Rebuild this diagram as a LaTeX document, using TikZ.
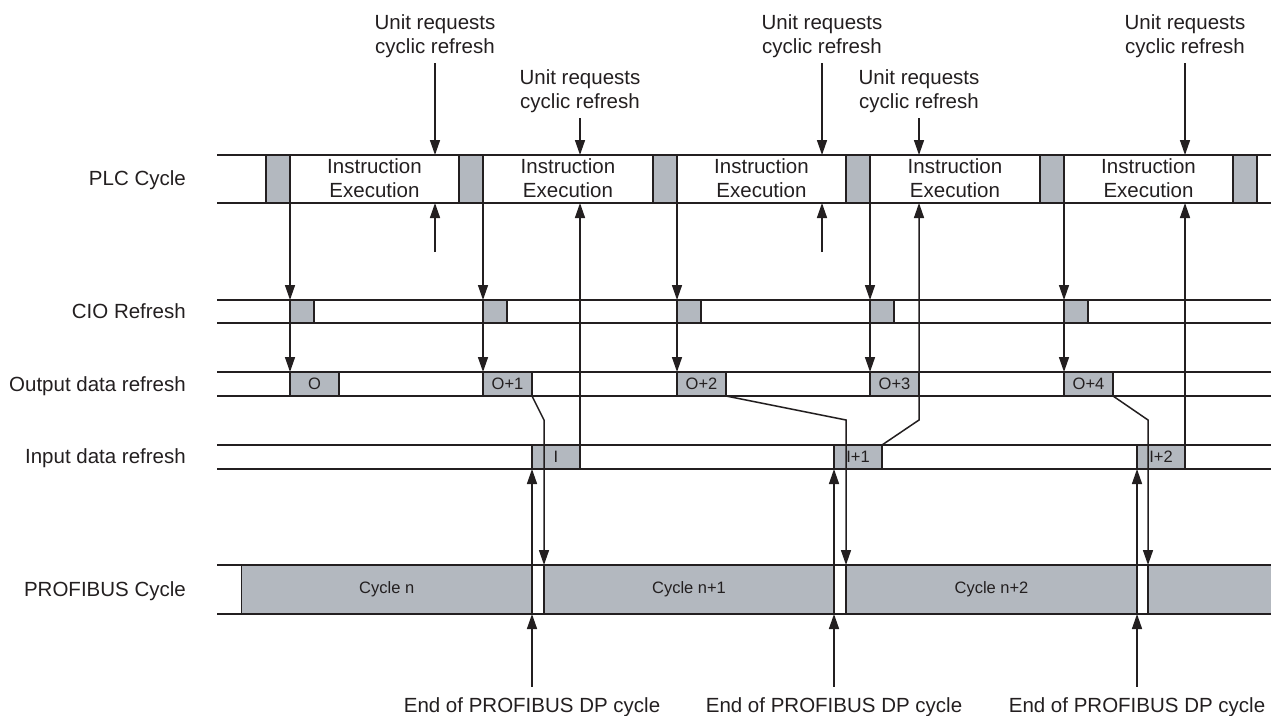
\documentclass[tikz,border=0pt]{standalone}
\usepackage{fontspec}
\setmainfont{Liberation Sans}
\usepackage{xcolor}
\usetikzlibrary{arrows.meta}
\definecolor{blockgray}{HTML}{B3B8BF}
\definecolor{ink}{HTML}{231F20}

\begin{document}
\begin{tikzpicture}[x=1pt,y=-1pt,>={Triangle[length=15pt,width=10pt]},line join=miter,
  rail/.style={draw=ink,line width=1.9pt},
  link/.style={draw=ink,line width=1.5pt},
  blk/.style={draw=ink,fill=blockgray,line width=1.7pt,inner sep=0pt,outer sep=0pt,anchor=north west,text=ink,font=\fontsize{16.5}{19}\selectfont},
  plcblk/.style={blk,minimum width=24pt,minimum height=48pt},
  cioblk/.style={blk,minimum width=24pt,minimum height=23pt},
  outblk/.style={blk,minimum width=49pt,minimum height=24pt},
  inblk/.style={blk,minimum width=48pt,minimum height=24pt},
  pbblk/.style={blk,minimum height=49pt},
  lbl/.style={inner sep=0pt,text=ink,align=center,font=\fontsize{20.5}{24}\selectfont}]
  \useasboundingbox (0,0) rectangle (1271,715);
  \clip (0,0) rectangle (1271,715);
  \coordinate (plcT) at (0,155);
  \coordinate (plcB) at (0,203);
  \coordinate (k1) at (544,420);
  \coordinate (k2) at (846,420);
  \coordinate (k3) at (1148,420);
  \coordinate (k4) at (919,420);
  \coordinate (u0) at (435,252);
  \coordinate (u1) at (822,252);
  % rails
  \draw[rail] (217,155) -- (1271,155);
  \draw[rail] (217,203) -- (1271,203);
  \draw[rail] (217,300) -- (1271,300);
  \draw[rail] (217,323) -- (1271,323);
  \draw[rail] (217,372) -- (1271,372);
  \draw[rail] (217,396) -- (1271,396);
  \draw[rail] (217,445) -- (1271,445);
  \draw[rail] (217,469) -- (1271,469);
  \draw[rail] (217,565) -- (1271,565);
  \draw[rail] (217,614) -- (1271,614);
  % blocks
  \node[plcblk] (plc0) at (266,155) {};
  \node[plcblk] (plc1) at (459,155) {};
  \node[plcblk] (plc2) at (653,155) {};
  \node[plcblk] (plc3) at (846,155) {};
  \node[plcblk] (plc4) at (1040,155) {};
  \node[plcblk] (plc5) at (1233,155) {};
  \node[cioblk] (cio0) at (290,300) {};
  \node[cioblk] (cio1) at (483,300) {};
  \node[cioblk] (cio2) at (677,300) {};
  \node[cioblk] (cio3) at (870,300) {};
  \node[cioblk] (cio4) at (1064,300) {};
  \node[outblk] (out0) at (290,372) {O};
  \node[outblk] (out1) at (483,372) {O+1};
  \node[outblk] (out2) at (677,372) {O+2};
  \node[outblk] (out3) at (870,372) {O+3};
  \node[outblk] (out4) at (1064,372) {O+4};
  \node[inblk] (in0) at (532,445) {I};
  \node[inblk] (in1) at (834,445) {I+1};
  \node[inblk] (in2) at (1137,445) {I+2};
  \node[pbblk,minimum width=290.5pt] (pb0) at (241.5,565) {Cycle n};
  \node[pbblk,minimum width=290pt] (pb1) at (544,565) {Cycle n+1};
  \node[pbblk,minimum width=291pt] (pb2) at (846,565) {Cycle n+2};
  \node[pbblk,minimum width=140pt] (pb3) at (1148,565) {};
  % labels
  \node[lbl,anchor=base east] (rowPLC) at (186,185) {PLC Cycle};
  \node[lbl,anchor=base east] (rowCIO) at (186,318) {CIO Refresh};
  \node[lbl,anchor=base east] (rowOut) at (186,391) {Output data refresh};
  \node[lbl,anchor=base east] (rowIn) at (186,463) {Input data refresh};
  \node[lbl,anchor=base east] (rowPB) at (186,596) {PROFIBUS Cycle};
  \node[lbl] (ins0) at (374.5,178) {Instruction\\Execution};
  \node[lbl] (ins1) at (568,178) {Instruction\\Execution};
  \node[lbl] (ins2) at (761.5,178) {Instruction\\Execution};
  \node[lbl] (ins3) at (955,178) {Instruction\\Execution};
  \node[lbl] (ins4) at (1148.5,178) {Instruction\\Execution};
  \node[lbl] (req0) at (435,36.6) {Unit requests\\cyclic refresh};
  \node[lbl] (req1) at (580,91.6) {Unit requests\\cyclic refresh};
  \node[lbl] (req2) at (822,36.6) {Unit requests\\cyclic refresh};
  \node[lbl] (req3) at (919,91.6) {Unit requests\\cyclic refresh};
  \node[lbl] (req4) at (1185,36.6) {Unit requests\\cyclic refresh};
  \node[lbl,anchor=base] (end0) at (532,712) {End of PROFIBUS DP cycle};
  \node[lbl,anchor=base] (end1) at (834,712) {End of PROFIBUS DP cycle};
  \node[lbl,anchor=base] (end2) at (1137,712) {End of PROFIBUS DP cycle};
  % requests into the PLC cycle
  \draw[link,->,shorten <=5pt] (req0.south) -- (req0.south |- plcT);
  \draw[link,->,shorten <=5pt] (req1.south) -- (req1.south |- plcT);
  \draw[link,->,shorten <=5pt] (req2.south) -- (req2.south |- plcT);
  \draw[link,->,shorten <=5pt] (req3.south) -- (req3.south |- plcT);
  \draw[link,->,shorten <=5pt] (req4.south) -- (req4.south |- plcT);
  \draw[link,->] (u0) -- (u0 |- plcB);
  \draw[link,->] (u1) -- (u1 |- plcB);
  % PLC -> CIO -> output
  \draw[link,->] (plc0.south east) -- (cio0.north west);
  \draw[link,->] (plc1.south east) -- (cio1.north west);
  \draw[link,->] (plc2.south east) -- (cio2.north west);
  \draw[link,->] (plc3.south east) -- (cio3.north west);
  \draw[link,->] (plc4.south east) -- (cio4.north west);
  \draw[link,->] (cio0.south west) -- (out0.north west);
  \draw[link,->] (cio1.south west) -- (out1.north west);
  \draw[link,->] (cio2.south west) -- (out2.north west);
  \draw[link,->] (cio3.south west) -- (out3.north west);
  \draw[link,->] (cio4.south west) -- (out4.north west);
  % output -> PROFIBUS
  \draw[link,->] (out1.south east) -- (k1) -- (pb1.north west);
  \draw[link,->] (out2.south east) -- (k2) -- (pb2.north west);
  \draw[link,->] (out4.south east) -- (k3) -- (pb3.north west);
  % input -> PLC
  \draw[link,->] (in0.north east) -- (in0.north east |- plcB);
  \draw[link,->] (in1.north east) -- (k4) -- (k4 |- plcB);
  \draw[link,->] (in2.north east) -- (in2.north east |- plcB);
  % end of DP cycle
  \draw[link,->] (pb0.north east) -- (in0.south west);
  \draw[link,->] (pb1.north east) -- (in1.south west);
  \draw[link,->] (pb2.north east) -- (in2.south west);
  \draw[link,->,shorten <=10pt] (end0.north) -- (pb0.south east);
  \draw[link,->,shorten <=10pt] (end1.north) -- (pb1.south east);
  \draw[link,->,shorten <=10pt] (end2.north) -- (pb2.south east);
\end{tikzpicture}
\end{document}
